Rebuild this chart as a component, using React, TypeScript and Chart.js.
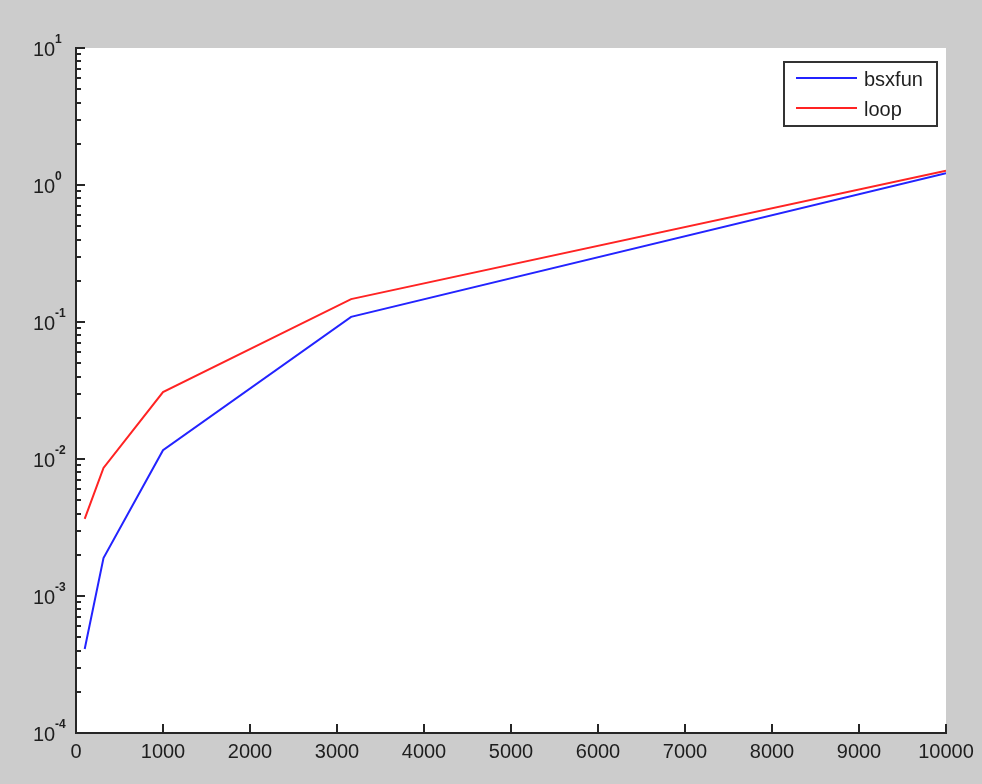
import React, { useEffect, useRef } from 'react';
import { Chart, registerables } from 'chart.js';
import type { Plugin } from 'chart.js';

Chart.register(...registerables);

// problem sizes (logspace 2..4) and run times in seconds
const sizes = [100, 316, 1000, 3162, 10000];
const bsxfunTimes = [4.1e-4, 1.89e-3, 1.16e-2, 0.109, 1.22];
const loopTimes = [3.65e-3, 8.6e-3, 3.08e-2, 0.147, 1.27];
const seriesNames = ['bsxfun', 'loop'];
const seriesColors = ['#2323ff', '#ff2323'];
const xTickValues = [0, 1000, 2000, 3000, 4000, 5000, 6000, 7000, 8000, 9000, 10000];
const yExponents = [-4, -3, -2, -1, 0, 1];

const FONT = '"Liberation Sans", Arial, Helvetica, sans-serif';
const AXIS_COLOR = '#262626';
const TEXT_COLOR = '#1e1e1e';

// MATLAB-ish look: gray figure, white axes, inward ticks, 10^n labels, boxed legend
const matlabAxes: Plugin<'line'> = {
  id: 'matlabAxes',
  beforeDraw(chart) {
    const { ctx, chartArea: a } = chart;
    ctx.save();
    ctx.fillStyle = '#cccccc';
    ctx.fillRect(0, 0, chart.width, chart.height);
    ctx.fillStyle = '#ffffff';
    ctx.fillRect(a.left, a.top, a.right - a.left, a.bottom - a.top);
    ctx.restore();
  },
  afterDraw(chart) {
    const { ctx, chartArea: a } = chart;
    const xs = chart.scales.x;
    const ys = chart.scales.y;
    ctx.save();

    ctx.strokeStyle = AXIS_COLOR;
    ctx.lineWidth = 2;
    ctx.beginPath();
    xTickValues.forEach((v) => {
      const px = Math.round(xs.getPixelForValue(v));
      ctx.moveTo(px, a.bottom);
      ctx.lineTo(px, a.bottom - 9);
    });
    yExponents.forEach((e, i) => {
      const py = Math.round(ys.getPixelForValue(Math.pow(10, e)));
      ctx.moveTo(a.left, py);
      ctx.lineTo(a.left + 9, py);
      if (i < yExponents.length - 1) {
        for (let m = 2; m < 10; m++) {
          const pm = Math.round(ys.getPixelForValue(m * Math.pow(10, e)));
          ctx.moveTo(a.left, pm);
          ctx.lineTo(a.left + 5, pm);
        }
      }
    });
    ctx.stroke();

    // y tick labels
    ctx.fillStyle = TEXT_COLOR;
    ctx.textAlign = 'left';
    ctx.textBaseline = 'alphabetic';
    yExponents.forEach((e) => {
      const py = ys.getPixelForValue(Math.pow(10, e));
      ctx.font = `20px ${FONT}`;
      ctx.fillText('10', 33, py + 8);
      ctx.font = `bold 12px ${FONT}`;
      ctx.fillText(String(e), 55, py - 5);
    });

    // legend box
    const bx = 784;
    const by = 62;
    const bw = 153;
    const bh = 64;
    ctx.fillStyle = '#ffffff';
    ctx.fillRect(bx, by, bw, bh);
    ctx.strokeStyle = '#333333';
    ctx.lineWidth = 2;
    ctx.strokeRect(bx, by, bw, bh);
    chart.data.datasets.forEach((ds, i) => {
      const ly = 78 + i * 30;
      ctx.strokeStyle = ds.borderColor as string;
      ctx.lineWidth = 2;
      ctx.beginPath();
      ctx.moveTo(796, ly);
      ctx.lineTo(857, ly);
      ctx.stroke();
      ctx.fillStyle = TEXT_COLOR;
      ctx.font = `20px ${FONT}`;
      ctx.fillText(ds.label ?? '', 864, ly + 8);
    });

    ctx.restore();
  },
};

export default function App() {
  const canvasRef = useRef<HTMLCanvasElement>(null);

  useEffect(() => {
    if (!canvasRef.current) return;
    const chart = new Chart(canvasRef.current, {
      type: 'line',
      data: {
        datasets: [bsxfunTimes, loopTimes].map((times, i) => ({
          label: seriesNames[i],
          data: sizes.map((x, j) => ({ x, y: times[j] })),
          borderColor: seriesColors[i],
          backgroundColor: seriesColors[i],
          borderWidth: 2,
          pointRadius: 0,
          tension: 0,
          fill: false,
        })),
      },
      options: {
        responsive: false,
        animation: false,
        layout: { padding: { top: 48, right: 36, left: 0, bottom: 0 } },
        plugins: {
          legend: { display: false },
          tooltip: { enabled: false },
        },
        scales: {
          x: {
            type: 'linear',
            min: 0,
            max: 10000,
            afterBuildTicks: (scale) => {
              scale.ticks = xTickValues.map((value) => ({ value }));
            },
            afterFit: (scale) => {
              scale.height = 51;
            },
            ticks: {
              autoSkip: false,
              maxRotation: 0,
              padding: 7,
              color: TEXT_COLOR,
              font: { family: FONT, size: 20 },
              callback: (v) => String(v),
            },
            grid: { display: false, drawTicks: false },
            border: { display: true, color: AXIS_COLOR, width: 2 },
          },
          y: {
            type: 'logarithmic',
            min: 1e-4,
            max: 10,
            afterFit: (scale) => {
              scale.width = 76;
            },
            ticks: { display: false },
            grid: { display: false, drawTicks: false },
            border: { display: true, color: AXIS_COLOR, width: 2 },
          },
        },
      },
      plugins: [matlabAxes],
    });
    return () => chart.destroy();
  }, []);

  return (
    <div style={{ position: 'absolute', left: 0, top: 0, width: 982, height: 784, background: '#cccccc' }}>
      <canvas ref={canvasRef} width={982} height={784} style={{ display: 'block' }} />
    </div>
  );
}
